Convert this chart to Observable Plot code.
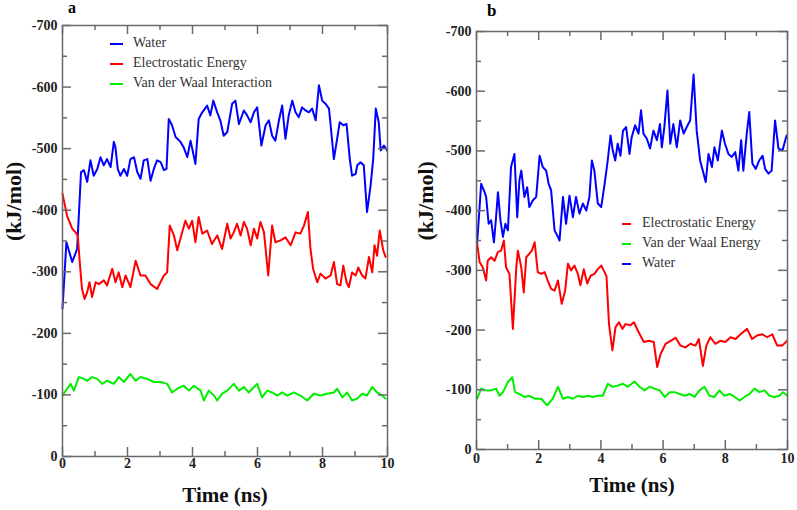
<!DOCTYPE html>
<html><head><meta charset="utf-8">
<script src="https://cdn.jsdelivr.net/npm/d3@7"></script>
<script src="https://cdn.jsdelivr.net/npm/@observablehq/plot@0.6"></script>
<style>
body{margin:0;background:#fff;}
#wrap{position:relative;width:797px;height:510px;overflow:hidden;font-family:"Liberation Serif","Times New Roman",serif;background:#fff;}
#wrap svg, #wrap svg text{font-family:"Liberation Serif","Times New Roman",serif !important;}
.panel{position:absolute;top:0;}
.plab{position:absolute;font-weight:bold;line-height:1;}
.legend{position:absolute;font-size:14px;color:#333;line-height:20px;white-space:nowrap;}
.legend .sw{display:inline-block;height:2px;vertical-align:middle;}
</style></head>
<body><div id="wrap"></div>
<script>
// ---- tick values ----
const xMajor = [0, 2, 4, 6, 8, 10];
const xMinor = [1, 3, 5, 7, 9];
const yMajor = [0, -100, -200, -300, -400, -500, -600, -700];
const yMinor = [-50, -150, -250, -350, -450, -550, -650];

// ---- panel a series: [time (ns), energy (kJ/mol)] ----
const aWater = [[0,-240],[0.12,-348],[0.30,-316],[0.45,-337],[0.57,-462],[0.66,-465],[0.76,-446],[0.86,-481],[0.96,-456],[1.07,-467],[1.17,-486],[1.27,-473],[1.37,-483],[1.48,-470],[1.58,-511],[1.63,-502],[1.70,-467],[1.78,-456],[1.89,-467],[1.99,-456],[2.09,-483],[2.20,-486],[2.30,-462],[2.40,-451],[2.50,-481],[2.61,-483],[2.71,-448],[2.81,-467],[2.91,-481],[3.02,-478],[3.12,-465],[3.20,-467],[3.27,-548],[3.37,-538],[3.48,-519],[3.63,-511],[3.73,-502],[3.84,-486],[3.94,-513],[4.09,-475],[4.19,-548],[4.30,-559],[4.45,-570],[4.55,-554],[4.64,-578],[4.76,-559],[4.86,-545],[4.96,-521],[5.07,-527],[5.22,-573],[5.32,-578],[5.43,-540],[5.58,-562],[5.68,-554],[5.79,-543],[5.89,-559],[5.99,-567],[6.12,-505],[6.25,-538],[6.35,-546],[6.45,-521],[6.55,-513],[6.66,-546],[6.76,-570],[6.86,-516],[6.96,-554],[7.07,-578],[7.17,-559],[7.27,-551],[7.37,-567],[7.48,-562],[7.58,-559],[7.68,-565],[7.79,-546],[7.89,-603],[7.99,-578],[8.09,-573],[8.20,-565],[8.25,-538],[8.35,-483],[8.45,-516],[8.53,-543],[8.64,-538],[8.74,-540],[8.84,-483],[8.91,-456],[9.02,-459],[9.07,-473],[9.17,-478],[9.27,-473],[9.37,-397],[9.48,-440],[9.56,-483],[9.64,-565],[9.73,-543],[9.79,-497],[9.89,-505],[9.99,-497]];
const aElec = [[0,-427],[0.14,-391],[0.30,-370],[0.40,-364],[0.47,-359],[0.53,-316],[0.60,-272],[0.68,-256],[0.76,-267],[0.83,-283],[0.91,-259],[1.02,-283],[1.12,-280],[1.27,-286],[1.37,-278],[1.53,-305],[1.63,-283],[1.73,-299],[1.84,-275],[1.94,-294],[2.09,-275],[2.25,-318],[2.40,-294],[2.55,-294],[2.71,-280],[2.91,-272],[3.12,-294],[3.22,-299],[3.30,-375],[3.43,-359],[3.53,-335],[3.63,-354],[3.78,-383],[3.89,-370],[3.99,-383],[4.09,-348],[4.19,-389],[4.30,-362],[4.45,-367],[4.60,-345],[4.76,-359],[4.91,-337],[5.07,-378],[5.17,-354],[5.27,-364],[5.37,-378],[5.48,-359],[5.58,-381],[5.68,-370],[5.79,-343],[5.89,-370],[5.99,-354],[6.09,-381],[6.20,-364],[6.33,-294],[6.45,-375],[6.55,-348],[6.71,-351],[6.86,-356],[7.02,-343],[7.17,-364],[7.32,-362],[7.43,-375],[7.55,-397],[7.63,-337],[7.71,-305],[7.84,-283],[7.94,-297],[8.09,-289],[8.25,-294],[8.35,-316],[8.45,-280],[8.55,-278],[8.64,-310],[8.74,-283],[8.81,-275],[8.91,-299],[9.02,-294],[9.10,-307],[9.22,-294],[9.32,-289],[9.43,-324],[9.53,-299],[9.60,-343],[9.68,-326],[9.76,-367],[9.87,-335],[9.94,-324]];
const aVdw = [[0,-99],[0.14,-110],[0.25,-118],[0.35,-107],[0.50,-129],[0.66,-126],[0.76,-123],[0.91,-129],[1.07,-126],[1.22,-118],[1.37,-123],[1.58,-118],[1.73,-129],[1.89,-121],[2.09,-134],[2.25,-123],[2.40,-129],[2.61,-126],[2.81,-121],[3.02,-121],[3.22,-118],[3.37,-104],[3.53,-110],[3.73,-115],[3.89,-107],[4.04,-115],[4.25,-107],[4.35,-91],[4.50,-107],[4.66,-99],[4.76,-91],[4.91,-102],[5.07,-107],[5.27,-118],[5.43,-107],[5.58,-113],[5.73,-104],[5.99,-118],[6.14,-96],[6.30,-107],[6.45,-104],[6.61,-99],[6.76,-104],[6.91,-99],[7.12,-104],[7.32,-99],[7.53,-91],[7.73,-102],[7.94,-99],[8.14,-102],[8.35,-104],[8.45,-110],[8.61,-96],[8.76,-104],[8.91,-91],[9.07,-94],[9.22,-102],[9.37,-99],[9.53,-113],[9.68,-104],[9.84,-99],[9.94,-94]];

// ---- panel b series ----
const bWater = [[0.02,-345],[0.15,-445],[0.26,-431],[0.31,-423],[0.39,-378],[0.47,-384],[0.56,-347],[0.63,-389],[0.69,-431],[0.77,-384],[0.85,-356],[0.93,-378],[1.01,-367],[1.11,-473],[1.22,-495],[1.31,-389],[1.38,-451],[1.44,-467],[1.54,-423],[1.63,-439],[1.70,-406],[1.81,-417],[1.92,-423],[2.03,-492],[2.13,-473],[2.24,-467],[2.32,-445],[2.40,-434],[2.51,-367],[2.62,-356],[2.67,-350],[2.78,-423],[2.88,-378],[2.99,-425],[3.10,-389],[3.20,-423],[3.31,-395],[3.42,-412],[3.53,-400],[3.63,-423],[3.71,-484],[3.79,-467],[3.90,-412],[4.01,-406],[4.12,-445],[4.22,-484],[4.31,-526],[4.38,-501],[4.46,-484],[4.54,-512],[4.63,-492],[4.71,-534],[4.81,-540],[4.92,-495],[4.99,-523],[5.10,-543],[5.21,-529],[5.29,-568],[5.37,-529],[5.48,-520],[5.58,-504],[5.69,-534],[5.80,-518],[5.90,-545],[5.96,-506],[6.04,-540],[6.14,-601],[6.23,-512],[6.33,-545],[6.44,-506],[6.55,-551],[6.66,-529],[6.76,-540],[6.87,-551],[6.98,-628],[7.08,-534],[7.19,-484],[7.30,-462],[7.37,-448],[7.46,-495],[7.57,-473],[7.65,-506],[7.76,-484],[7.89,-534],[7.99,-512],[8.10,-495],[8.21,-490],[8.32,-498],[8.42,-467],[8.51,-518],[8.58,-467],[8.69,-529],[8.77,-565],[8.87,-479],[8.98,-470],[9.09,-484],[9.20,-492],[9.28,-470],[9.39,-462],[9.49,-467],[9.60,-551],[9.71,-504],[9.84,-501],[9.97,-526]];
const bElec = [[0.02,-345],[0.10,-314],[0.20,-305],[0.31,-283],[0.36,-316],[0.47,-322],[0.58,-316],[0.69,-331],[0.79,-333],[0.88,-350],[0.95,-305],[1.06,-294],[1.17,-202],[1.28,-305],[1.33,-333],[1.44,-305],[1.52,-263],[1.60,-322],[1.70,-328],[1.78,-333],[1.87,-347],[1.97,-297],[2.08,-294],[2.19,-297],[2.29,-283],[2.40,-269],[2.51,-266],[2.62,-283],[2.74,-244],[2.85,-266],[2.94,-311],[3.04,-300],[3.15,-308],[3.26,-294],[3.34,-275],[3.45,-302],[3.56,-278],[3.67,-291],[3.79,-294],[3.90,-302],[4.01,-308],[4.09,-300],[4.18,-290],[4.26,-210],[4.37,-166],[4.47,-205],[4.58,-213],[4.69,-202],[4.79,-210],[4.95,-208],[5.06,-213],[5.22,-196],[5.38,-180],[5.54,-182],[5.70,-180],[5.81,-138],[5.92,-160],[6.08,-177],[6.24,-182],[6.40,-187],[6.56,-174],[6.72,-171],[6.88,-177],[7.04,-174],[7.15,-185],[7.28,-140],[7.39,-174],[7.52,-188],[7.68,-177],[7.84,-182],[8.00,-180],[8.17,-188],[8.33,-185],[8.49,-193],[8.70,-202],[8.86,-185],[9.02,-191],[9.19,-193],[9.35,-188],[9.51,-193],[9.67,-174],[9.83,-174],[9.99,-182]];
const bVdw = [[0.02,-85],[0.15,-102],[0.31,-99],[0.47,-99],[0.63,-102],[0.74,-90],[0.85,-96],[1.01,-113],[1.15,-121],[1.24,-96],[1.38,-93],[1.54,-88],[1.70,-90],[1.87,-85],[2.08,-85],[2.27,-74],[2.45,-85],[2.62,-105],[2.78,-85],[2.94,-88],[3.10,-85],[3.26,-90],[3.42,-88],[3.58,-90],[3.74,-88],[3.90,-90],[4.06,-90],[4.22,-110],[4.38,-105],[4.54,-107],[4.71,-110],[4.87,-105],[5.08,-114],[5.24,-105],[5.40,-99],[5.56,-105],[5.72,-102],[5.89,-99],[6.05,-88],[6.21,-96],[6.37,-96],[6.53,-93],[6.69,-90],[6.85,-93],[7.01,-88],[7.17,-99],[7.33,-105],[7.49,-90],[7.65,-88],[7.81,-99],[7.97,-90],[8.14,-93],[8.30,-88],[8.46,-82],[8.62,-88],[8.78,-93],[8.94,-102],[9.10,-96],[9.26,-99],[9.42,-90],[9.58,-88],[9.74,-90],[9.85,-96],[10.0,-90]];

// ---- series names & colours ----
const aNames = ["Water", "Electrostatic Energy", "Van der Waal Interaction"];
const bNames = ["Electrostatic Energy", "Van der Waal Energy", "Water"];
const colors = {water: "#0000ff", elec: "#ff0000", vdw: "#00ee00"};

const FONT = "'Liberation Serif', 'Times New Roman', serif";
const AXIS = "#6a6a6a";

function makePanel(cfg) {
  const H = 510;
  const innerW = cfg.width - cfg.mL - cfg.mR;
  const innerH = H - cfg.mT - cfg.mB;
  const maj = 9, mnr = 5;
  const tick = (o) => ({stroke: AXIS, strokeWidth: 1.5, ...o});
  return Plot.plot({
    width: cfg.width, height: H,
    marginLeft: cfg.mL, marginRight: cfg.mR, marginTop: cfg.mT, marginBottom: cfg.mB,
    x: {domain: [0, 10]},
    y: {domain: [0, -700]},
    style: {fontFamily: FONT, fontSize: "14px", fontWeight: "bold", color: "#222", background: "transparent", overflow: "visible"},
    marks: [
      ...cfg.series.map(s => Plot.line(s.data, {x: d => d[0], y: d => d[1], stroke: s.color, strokeWidth: 2, strokeLinejoin: "round"})),
      Plot.frame({stroke: AXIS, strokeWidth: 1.5}),
      Plot.tickX(xMajor, tick({x: d => d, insetTop: innerH - maj})),
      Plot.tickX(xMinor, tick({x: d => d, insetTop: innerH - mnr})),
      Plot.tickX(xMajor, tick({x: d => d, insetBottom: innerH - maj})),
      Plot.tickX(xMinor, tick({x: d => d, insetBottom: innerH - mnr})),
      Plot.tickY(yMajor, tick({y: d => d, insetRight: innerW - maj})),
      Plot.tickY(yMinor, tick({y: d => d, insetRight: innerW - mnr})),
      Plot.tickY(yMajor, tick({y: d => d, insetLeft: innerW - maj})),
      Plot.tickY(yMinor, tick({y: d => d, insetLeft: innerW - mnr})),
      Plot.axisX(xMajor, {tickSize: 0, tickPadding: cfg.xPad, tickFormat: d => String(d), label: null, fontSize: 14, fontWeight: "bold", fontFamily: FONT}),
      Plot.axisY(yMajor, {tickSize: 0, tickPadding: 5, tickFormat: d => String(d), label: null, fontSize: 14, fontWeight: "bold", fontFamily: FONT}),
      Plot.text(["Time (ns)"], {text: d => d, frameAnchor: "bottom", lineAnchor: "bottom", dy: cfg.titleDy, fontSize: 21, fontWeight: "bold", fontFamily: FONT, fill: "#111"}),
      Plot.text(["(kJ/mol)"], {text: d => d, frameAnchor: "left", rotate: -90, dx: cfg.ylabDx, fontSize: 22, fontWeight: "bold", fontFamily: FONT, fill: "#111"})
    ]
  });
}

const wrap = document.getElementById("wrap");

function place(node, left) {
  node.classList.add("panel");
  node.style.left = left + "px";
  wrap.appendChild(node);
}

place(makePanel({
  width: 400, mL: 62, mR: 13, mT: 25, mB: 54, xPad: 2, titleDy: 45, ylabDx: -49,
  series: [
    {data: aWater, color: colors.water},
    {data: aElec, color: colors.elec},
    {data: aVdw, color: colors.vdw}
  ]
}), 0);

place(makePanel({
  width: 397, mL: 76, mR: 10, mT: 31, mB: 61, xPad: 4, titleDy: 42, ylabDx: -51,
  series: [
    {data: bWater, color: colors.water},
    {data: bElec, color: colors.elec},
    {data: bVdw, color: colors.vdw}
  ]
}), 400);

function legend(names, cols, left, top, sw, gap) {
  const div = document.createElement("div");
  div.className = "legend";
  div.style.left = left + "px";
  div.style.top = top + "px";
  names.forEach((n, i) => {
    const row = document.createElement("div");
    const s = document.createElement("span");
    s.className = "sw";
    s.style.width = sw + "px";
    s.style.marginRight = gap + "px";
    s.style.background = cols[i];
    row.appendChild(s);
    row.appendChild(document.createTextNode(n));
    div.appendChild(row);
  });
  wrap.appendChild(div);
}
legend(aNames, [colors.water, colors.elec, colors.vdw], 110, 33, 13, 10);
legend(bNames, [colors.elec, colors.vdw, colors.water], 622, 213, 9, 11);

function panelLabel(txt, left, top, size) {
  const d = document.createElement("div");
  d.className = "plab";
  d.textContent = txt;
  d.style.left = left + "px";
  d.style.top = top + "px";
  d.style.fontSize = size + "px";
  wrap.appendChild(d);
}
panelLabel("a", 68, 0, 16);
panelLabel("b", 487, 2, 17);
</script>
</body></html>
